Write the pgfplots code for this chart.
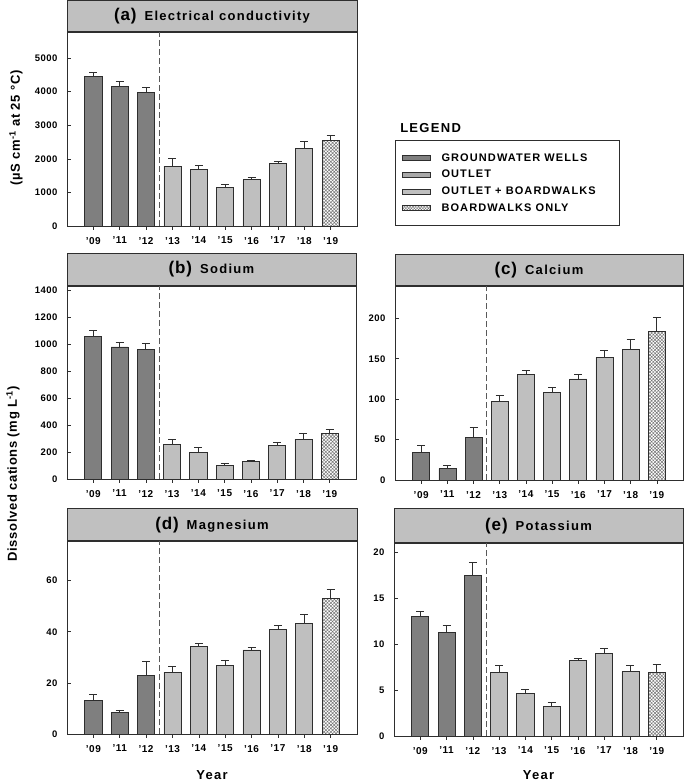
\documentclass[border=0pt]{standalone}
\usepackage{fontspec}
\setmainfont{Liberation Sans}[LetterSpace=5]
\newfontfamily\spaced{Liberation Sans}[LetterSpace=10]
\usepackage{pgfplots}
\pgfplotsset{compat=1.18}
\usetikzlibrary{patterns.meta}
\definecolor{gw}{HTML}{7F7F7F}
\definecolor{outlet}{HTML}{A8A8A8}
\definecolor{ob}{HTML}{BFBFBF}
\definecolor{tgray}{HTML}{C0C0C0}
\definecolor{edge}{HTML}{2E2E2E}

\pgfplotsset{
  every axis title shift=0pt,
  panel/.style={
    scale only axis, clip=false,
    xmin=-1, xmax=10, ymin=0,
    axis line style={draw=edge, line width=0.8pt},
    xtick={0,...,9},
    xticklabels={'09,'11,'12,'13,'14,'15,'16,'17,'18,'19},
    xtick pos=bottom, ytick pos=left,
    xtick align=outside, ytick align=inside,
    major tick length=3.5pt,
    tick style={draw=edge, line width=0.6pt},
    /pgf/number format/assume math mode=true,
    /pgf/number format/set thousands separator={},
    xticklabel style={font=\fontsize{10}{12}\selectfont\bfseries, yshift=-4pt},
    yticklabel style={font=\fontsize{9.5}{11}\selectfont\bfseries, xshift=-6pt},
    title style={at={(0.5,1)}, anchor=south, yshift=0pt, fill=tgray, draw=edge, line width=0.8pt,
      minimum height=32pt, inner sep=0pt},
    ylabel style={font=\fontsize{13}{15}\selectfont\bfseries, anchor=center},
    xlabel style={font=\spaced\fontsize{13}{15}\selectfont\bfseries, anchor=center,
      at={(axis description cs:0.5,0)}, yshift=-41pt},
  },
  errs/.style={error bars/.cd, y dir=plus, y explicit,
    error bar style={draw=edge, line width=0.7pt},
    error mark options={rotate=90, mark size=4pt, line width=0.7pt, draw=edge}},
  gwbar/.style={ybar, bar width=0.65, fill=gw, draw=edge, line width=0.7pt, forget plot, errs},
  obbar/.style={ybar, bar width=0.65, fill=ob, draw=edge, line width=0.7pt, forget plot, errs},
  bwbar/.style={ybar, bar width=0.65, fill=white, draw=edge, line width=0.7pt, forget plot,
    postaction={pattern={Hatch[angle=45,distance=2.4pt,line width=0.5pt]}, pattern color=black!55}, errs},
  divider/.style={draw=black!65, dash pattern=on 6pt off 3pt, line width=0.8pt, forget plot},
}
\newcommand{\ptitle}[2]{{\fontsize{17}{18}\selectfont\bfseries #1}\hspace{8pt}{\spaced\fontsize{13}{15}\selectfont\bfseries #2}}

\begin{document}
\begin{tikzpicture}
\path[use as bounding box] (0,0) rectangle (685pt,-781pt);

% (a) Electrical conductivity
\begin{axis}[panel, at={(67pt,-226pt)}, anchor=south west,
  width=290pt, height=194pt, ymax=5774,
  ytick={0,1000,...,5000},
  title={\ptitle{(a)}{Electrical conductivity}},
  title style={minimum width=290pt, minimum height=31pt},
  ylabel={(µS cm\textsuperscript{-1} at 25 °C)},
  ylabel style={at={(axis description cs:-0.176,0.505)}},
  legend cell align=left,
  legend style={at={(1.131,0.443)}, anchor=north west, draw=edge, line width=0.6pt,
    font=\spaced\fontsize{11}{12}\selectfont\bfseries, inner xsep=7pt, inner ysep=11pt,
    row sep=3.5pt},
  ]
  \addplot[gwbar] coordinates {(0,4455) +- (0,125) (1,4158) +- (0,145) (2,3980) +- (0,145)};
  \addplot[obbar] coordinates {(3,1782) +- (0,238) (4,1693) +- (0,119) (5,1149) +- (0,89)
    (6,1376) +- (0,70) (7,1861) +- (0,60) (8,2317) +- (0,208)};
  \addplot[bwbar] coordinates {(9,2554) +- (0,149)};
  \addplot[divider] coordinates {(2.5,0) (2.5,5774)};
  \addlegendimage{legend image code/.code={\draw[fill=gw, draw=edge, line width=0.5pt] (0pt,-2.5pt) rectangle (28pt,2.5pt); \path[draw=none] (0pt,0pt) -- (37pt,0pt);}}
  \addlegendentry{GROUNDWATER WELLS}
  \addlegendimage{legend image code/.code={\draw[fill=outlet, draw=edge, line width=0.5pt] (0pt,-2.5pt) rectangle (28pt,2.5pt); \path[draw=none] (0pt,0pt) -- (37pt,0pt);}}
  \addlegendentry{OUTLET}
  \addlegendimage{legend image code/.code={\draw[fill=ob, draw=edge, line width=0.5pt] (0pt,-2.5pt) rectangle (28pt,2.5pt); \path[draw=none] (0pt,0pt) -- (37pt,0pt);}}
  \addlegendentry{OUTLET + BOARDWALKS\rule{15pt}{0pt}}
  \addlegendimage{legend image code/.code={\draw[fill=white, draw=edge, line width=0.5pt, postaction={pattern={Hatch[angle=45,distance=2pt,line width=0.4pt]}, pattern color=black!55}] (0pt,-2.5pt) rectangle (28pt,2.5pt); \path[draw=none] (0pt,0pt) -- (37pt,0pt);}}
  \addlegendentry{BOARDWALKS ONLY}
  \node[anchor=base west, font=\spaced\fontsize{13}{15}\selectfont\bfseries]
    at (rel axis cs:1.137,0.4845) {LEGEND};
\end{axis}

% (b) Sodium
\begin{axis}[panel, at={(67pt,-479pt)}, anchor=south west,
  width=289pt, height=193pt, ymax=1435,
  ytick={0,200,...,1400},
  title={\ptitle{(b)}{Sodium}},
  title style={minimum width=289pt},
  ylabel={Dissolved cations (mg L\textsuperscript{-1})},
  ylabel style={at={(axis description cs:-0.187,0.026)}},
  ]
  \addplot[gwbar] coordinates {(0,1061) +- (0,45) (1,982) +- (0,35) (2,965) +- (0,44)};
  \addplot[obbar] coordinates {(3,257) +- (0,40) (4,200) +- (0,37) (5,101) +- (0,18)
    (6,131) +- (0,8) (7,250) +- (0,25) (8,297) +- (0,44)};
  \addplot[bwbar] coordinates {(9,341) +- (0,30)};
  \addplot[divider] coordinates {(2.5,0) (2.5,1435)};
\end{axis}

% (c) Calcium
\begin{axis}[panel, at={(395pt,-480pt)}, anchor=south west,
  width=288pt, height=194pt, ymax=240,
  ytick={0,50,...,200},
  title={\ptitle{(c)}{Calcium}},
  title style={minimum width=288pt, minimum height=31pt},
  ]
  \addplot[gwbar] coordinates {(0,33.8) +- (0,9.5) (1,14) +- (0,3.7) (2,52.4) +- (0,13.2)};
  \addplot[obbar] coordinates {(3,96.9) +- (0,8.3) (4,131.1) +- (0,4.6) (5,108.5) +- (0,6.1)
    (6,125) +- (0,6.1) (7,151.8) +- (0,8.6) (8,161.6) +- (0,12)};
  \addplot[bwbar] coordinates {(9,184.3) +- (0,16.5)};
  \addplot[divider] coordinates {(2.5,0) (2.5,240)};
\end{axis}

% (d) Magnesium
\begin{axis}[panel, at={(67pt,-734pt)}, anchor=south west,
  width=290pt, height=193pt, ymax=75.5,
  ytick={0,20,40,60},
  title={\ptitle{(d)}{Magnesium}},
  title style={minimum width=290pt},
  xlabel={Year},
  ]
  \addplot[gwbar] coordinates {(0,13.3) +- (0,2.2) (1,8.3) +- (0,1.1) (2,22.8) +- (0,5.6)};
  \addplot[obbar] coordinates {(3,24.2) +- (0,2.1) (4,34.4) +- (0,1.0) (5,26.9) +- (0,2.1)
    (6,32.9) +- (0,0.9) (7,41.0) +- (0,1.7) (8,43.3) +- (0,3.7)};
  \addplot[bwbar] coordinates {(9,53.0) +- (0,3.5)};
  \addplot[divider] coordinates {(2.5,0) (2.5,75.5)};
\end{axis}

% (e) Potassium
\begin{axis}[panel, at={(394pt,-736pt)}, anchor=south west,
  width=289pt, height=193pt, ymax=21,
  ytick={0,5,...,20},
  title={\ptitle{(e)}{Potassium}},
  title style={minimum width=289pt, minimum height=34pt},
  xlabel={Year},
  xlabel style={yshift=2pt},
  ]
  \addplot[gwbar] coordinates {(0,13.0) +- (0,0.6) (1,11.3) +- (0,0.7) (2,17.5) +- (0,1.4)};
  \addplot[obbar] coordinates {(3,6.93) +- (0,0.73) (4,4.6) +- (0,0.48) (5,3.23) +- (0,0.44)
    (6,8.2) +- (0,0.26) (7,8.97) +- (0,0.61) (8,7.0) +- (0,0.66)};
  \addplot[bwbar] coordinates {(9,6.93) +- (0,0.87)};
  \addplot[divider] coordinates {(2.5,0) (2.5,21)};
\end{axis}
\end{tikzpicture}
\end{document}
